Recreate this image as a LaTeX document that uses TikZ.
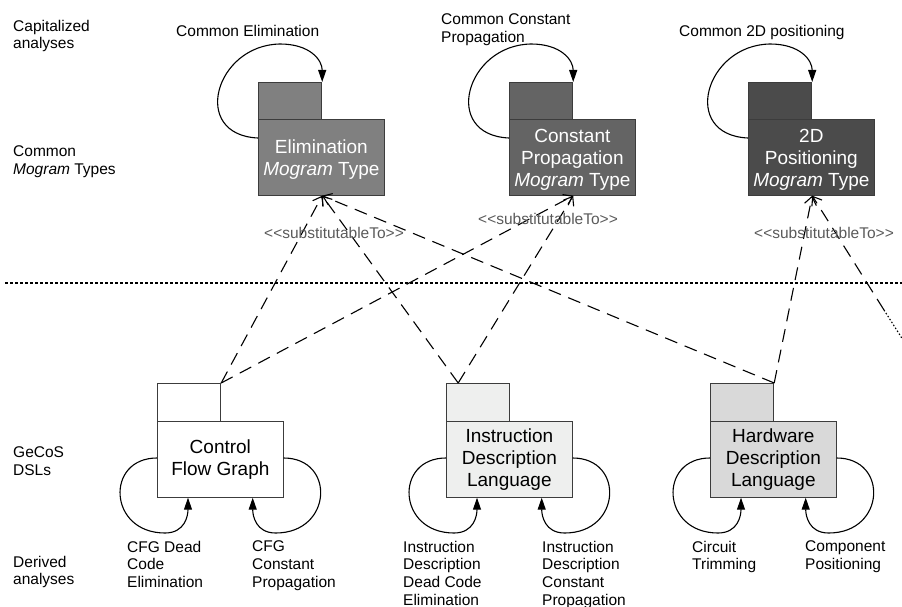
\documentclass[tikz,border=0pt]{standalone}
\usepackage{fontspec}
\setmainfont{Liberation Sans}
\usetikzlibrary{arrows.meta,calc}
\definecolor{elimfill}{HTML}{808080}
\definecolor{constfill}{HTML}{646464}
\definecolor{posfill}{HTML}{4B4B4B}
\definecolor{cfgfill}{HTML}{FFFFFF}
\definecolor{idlfill}{HTML}{EEEFEE}
\definecolor{hdlfill}{HTML}{D9D9D9}
\definecolor{boxline}{HTML}{3C3C3C}
\definecolor{stereo}{HTML}{5A5A5A}
\begin{document}
\begin{tikzpicture}[x=1pt,y=-1pt,
  pkgtab/.style={draw=boxline, line width=1.2pt, anchor=north west, minimum width=63pt, minimum height=37.5pt, inner sep=0pt},
  pkgbox/.style={draw=boxline, line width=1.2pt, anchor=north west, minimum width=125.5pt, minimum height=75.5pt, inner sep=0pt, align=center, font=\fontsize{19}{22}\selectfont},
  caption/.style={inner sep=0pt, align=left, anchor=north west, font=\fontsize{15.5}{17.8}\selectfont},
  captionline/.style={inner sep=0pt, anchor=base west, font=\fontsize{15.5}{17.8}\selectfont},
  stereotype/.style={inner sep=0pt, anchor=base west, text=stereo, font=\fontsize{15.5}{17.8}\selectfont},
  subst/.style={line width=1.1pt, dash pattern=on 13pt off 8pt, -{Straight Barb[length=8pt,width=12pt,line width=1.1pt]}},
  loopar/.style={line width=1.1pt, -{Triangle[length=12pt,width=8pt]}},
  separator/.style={line width=2pt, dash pattern=on 3pt off 2pt}
]
\useasboundingbox (0,0) rectangle (902,607);

% left captions
\node[caption] (capA) at (13,19.7) {Capitalized\\analyses};
\node[caption] (capB) at (13,145.7) {Common\\\textit{Mogram} Types};
\node[caption] (capC) at (13,446.7) {GeCoS\\DSLs};
\node[caption] (capD) at (13,555.7) {Derived\\analyses};

% separator
\coordinate (sepL) at (5,283);
\coordinate (sepR) at (902,283);
\draw[separator] (sepL) -- (sepR);

% common mogram types
\node[pkgtab, fill=elimfill] (elimtab) at (258,82) {};
\node[pkgbox, fill=elimfill, text=white] (elim) at (258,119) {\rule{0pt}{18pt}Elimination\\\textit{Mogram} Type};
\node[pkgtab, fill=constfill] (consttab) at (509,82) {};
\node[pkgbox, fill=constfill, text=white] (const) at (509,119) {\rule{0pt}{18pt}Constant\\Propagation\\\textit{Mogram} Type};
\node[pkgtab, fill=posfill] (postab) at (748,82) {};
\node[pkgbox, fill=posfill, text=white] (pos) at (748,119) {\rule{0pt}{18pt}2D\\Positioning\\\textit{Mogram} Type};

\node[captionline] (lelim) at (176,37) {Common Elimination};
\node[caption] (lconst) at (441,13.7) {Common Constant\\Propagation};
\node[captionline] (lpos) at (679,37) {Common 2D positioning};

\foreach \p in {elim,const,pos}{
  \draw[loopar] ($(\p tab.north west)+(0,56)$)
    .. controls ($(\p tab.north west)+(-68,53)$) and ($(\p tab.north west)+(-43,-37)$) .. ($(\p tab.north west)+(22,-38)$)
    .. controls ($(\p tab.north west)+(52,-38)$) and ($(\p tab.north east)+(0,-22)$) .. (\p tab.north east);
}

% GeCoS DSLs
\node[pkgtab, fill=cfgfill] (cfgtab) at (157,383) {};
\node[pkgbox, fill=cfgfill] (cfg) at (157,421) {Control\\Flow Graph};
\node[pkgtab, fill=idlfill] (idltab) at (446,383) {};
\node[pkgbox, fill=idlfill] (idl) at (446,421) {Instruction\\Description\\Language};
\node[pkgtab, fill=hdlfill] (hdltab) at (710,383) {};
\node[pkgbox, fill=hdlfill] (hdl) at (710,421) {Hardware\\Description\\Language};

\foreach \p in {cfg,idl,hdl}{
  \draw[loopar] ($(\p.north west)+(0,37)$)
    .. controls ($(\p.north west)+(-52,37)$) and ($(\p.north west)+(-49,112)$) .. ($(\p.north west)+(8,112)$)
    .. controls ($(\p.north west)+(28,112)$) and ($(\p.south west)+(31,18)$) .. ($(\p.south west)+(31,0)$);
  \draw[loopar] ($(\p.north east)+(0,37)$)
    .. controls ($(\p.north east)+(52,37)$) and ($(\p.north east)+(49,112)$) .. ($(\p.north east)+(-8,112)$)
    .. controls ($(\p.north east)+(-28,112)$) and ($(\p.south east)+(-31,18)$) .. ($(\p.south east)+(-31,0)$);
}

% derived analyses
\node[caption] (dA) at (127,540.7) {CFG Dead\\Code\\Elimination};
\node[caption] (dB) at (252,540.7) {CFG\\Constant\\Propagation};
\node[caption] (dC) at (403,540.7) {Instruction\\Description\\Dead Code\\Elimination};
\node[caption] (dD) at (542,540.7) {Instruction\\Description\\Constant\\Propagation};
\node[caption] (dE) at (692,540.7) {Circuit\\Trimming};
\node[caption] (dF) at (805,540.7) {Component\\Positioning};

% substitutableTo connectors
\coordinate (elimT) at (elimtab.east |- elim.south);
\coordinate (constT) at (consttab.east |- const.south);
\coordinate (posT) at (postab.east |- pos.south);
\coordinate (idlS) at ($(idltab.north west)!0.19!(idltab.north east)$);
\coordinate (offA) at (884,310);
\coordinate (offB) at (903,340);

\draw[subst] (cfgtab.north east) -- (elimT);
\draw[subst] (cfgtab.north east) -- (constT);
\draw[subst] (idlS) -- (elimT);
\draw[subst] (idlS) -- (constT);
\draw[subst] (hdltab.north east) -- (elimT);
\draw[subst] (hdltab.north east) -- (posT);
\draw[subst] (offA) -- (posT);
\draw[line width=1.1pt, dash pattern=on 1.5pt off 2pt] (offA) -- (offB);

\node[stereotype] (st1) at (264,238) {<{}<substitutableTo>{}>};
\node[stereotype] (st2) at (478,224) {<{}<substitutableTo>{}>};
\node[stereotype] (st3) at (754,238) {<{}<substitutableTo>{}>};
\end{tikzpicture}
\end{document}
